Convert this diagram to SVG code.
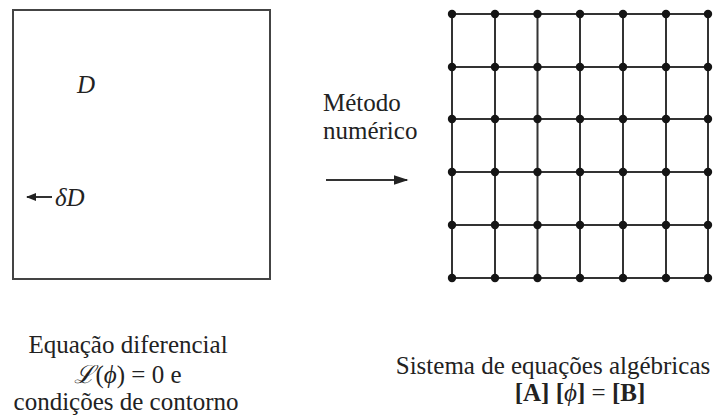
<svg xmlns="http://www.w3.org/2000/svg" width="717" height="418" viewBox="0 0 717 418">
<style>
.t{font-family:"Liberation Serif",serif;font-size:25px;fill:#222}
.it{font-style:italic}
.b{font-weight:bold}
.box{fill:none;stroke:#444;stroke-width:2}
.gl{stroke:#333;stroke-width:2;fill:none}
.dot{fill:#151515}
.arr{stroke:#333;stroke-width:2;fill:none}
</style>
<defs>
<marker id="ah" viewBox="0 0 10 10" refX="9" refY="5" markerWidth="10" markerHeight="8" markerUnits="userSpaceOnUse" orient="auto" preserveAspectRatio="none">
<path d="M0,0 L10,5 L0,10 z" fill="#222"/>
</marker>
<marker id="ah2" viewBox="0 0 10 10" refX="9" refY="5" markerWidth="15" markerHeight="10" markerUnits="userSpaceOnUse" orient="auto" preserveAspectRatio="none">
<path d="M0,0 L10,5 L0,10 z" fill="#222"/>
</marker>
<circle id="n" r="4.2" class="dot"/>
</defs>
<g id="domain">
<rect class="box" x="13" y="10" width="257" height="269"/>
<text class="t it" font-family="Liberation Serif" x="77" y="93">D</text>
<line class="arr" x1="52" y1="197" x2="27" y2="197" marker-end="url(#ah)"/>
<text class="t it" font-family="Liberation Serif" x="55" y="206">δD</text>
</g>
<g id="mesh">
<g class="gl">
<line x1="452" y1="14" x2="708" y2="14"/>
<line x1="452" y1="67" x2="708" y2="67"/>
<line x1="452" y1="119" x2="708" y2="119"/>
<line x1="452" y1="172" x2="708" y2="172"/>
<line x1="452" y1="225" x2="708" y2="225"/>
<line x1="452" y1="278" x2="708" y2="278"/>
<line x1="452" y1="14" x2="452" y2="278"/>
<line x1="495" y1="14" x2="495" y2="278"/>
<line x1="537.5" y1="14" x2="537.5" y2="278"/>
<line x1="580" y1="14" x2="580" y2="278"/>
<line x1="623" y1="14" x2="623" y2="278"/>
<line x1="666" y1="14" x2="666" y2="278"/>
<line x1="708" y1="14" x2="708" y2="278"/>
</g>
<g>
<use href="#n" x="452" y="14"/><use href="#n" x="495" y="14"/><use href="#n" x="537.5" y="14"/><use href="#n" x="580" y="14"/><use href="#n" x="623" y="14"/><use href="#n" x="666" y="14"/><use href="#n" x="708" y="14"/>
<use href="#n" x="452" y="67"/><use href="#n" x="495" y="67"/><use href="#n" x="537.5" y="67"/><use href="#n" x="580" y="67"/><use href="#n" x="623" y="67"/><use href="#n" x="666" y="67"/><use href="#n" x="708" y="67"/>
<use href="#n" x="452" y="119"/><use href="#n" x="495" y="119"/><use href="#n" x="537.5" y="119"/><use href="#n" x="580" y="119"/><use href="#n" x="623" y="119"/><use href="#n" x="666" y="119"/><use href="#n" x="708" y="119"/>
<use href="#n" x="452" y="172"/><use href="#n" x="495" y="172"/><use href="#n" x="537.5" y="172"/><use href="#n" x="580" y="172"/><use href="#n" x="623" y="172"/><use href="#n" x="666" y="172"/><use href="#n" x="708" y="172"/>
<use href="#n" x="452" y="225"/><use href="#n" x="495" y="225"/><use href="#n" x="537.5" y="225"/><use href="#n" x="580" y="225"/><use href="#n" x="623" y="225"/><use href="#n" x="666" y="225"/><use href="#n" x="708" y="225"/>
<use href="#n" x="452" y="278"/><use href="#n" x="495" y="278"/><use href="#n" x="537.5" y="278"/><use href="#n" x="580" y="278"/><use href="#n" x="623" y="278"/><use href="#n" x="666" y="278"/><use href="#n" x="708" y="278"/>
</g>
</g>
<g id="method-label">
<text class="t" font-family="Liberation Serif" x="323" y="111">Método</text>
<text class="t" font-family="Liberation Serif" x="323" y="139">numérico</text>
</g>
<g id="connectors">
<line class="arr" x1="326" y1="180" x2="407" y2="180" marker-end="url(#ah2)"/>
</g>
<g id="caption-left">
<text class="t" font-family="Liberation Serif" x="128" y="353" text-anchor="middle">Equação diferencial</text>
<text class="t" font-family="Liberation Serif" x="128" y="383" text-anchor="middle"><tspan class="it">ℒ</tspan>(<tspan class="it">ϕ</tspan>) = 0 e</text>
<text class="t" font-family="Liberation Serif" x="126" y="410" text-anchor="middle">condições de contorno</text>
</g>
<g id="caption-right">
<text class="t" font-family="Liberation Serif" x="553" y="374" text-anchor="middle">Sistema de equações algébricas</text>
<text class="t" font-family="Liberation Serif" x="580" y="401" text-anchor="middle"><tspan class="b">[A]</tspan> <tspan class="b">[</tspan><tspan class="it">ϕ</tspan><tspan class="b">]</tspan> = <tspan class="b">[B]</tspan></text>
</g>
</svg>
